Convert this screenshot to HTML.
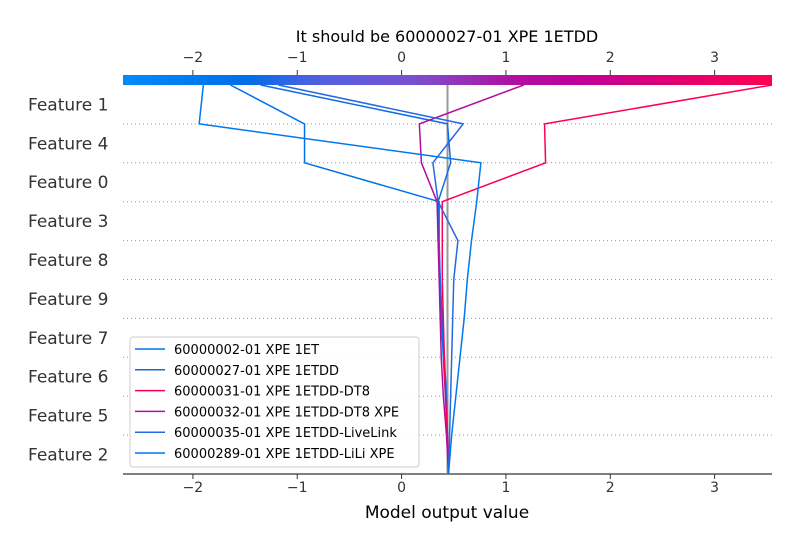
<!DOCTYPE html>
<html><head><meta charset="utf-8"><style>
body{margin:0;background:#fff;font-family:"Liberation Sans","DejaVu Sans",sans-serif}
</style></head><body>
<svg id="c" width="800" height="550" xmlns="http://www.w3.org/2000/svg" font-family="DejaVu Sans, Liberation Sans, sans-serif">
<defs><linearGradient id="g" x1="0" x2="1" y1="0" y2="0">
<stop offset="0" stop-color="#008bfb"/><stop offset="0.19" stop-color="#006ee8"/><stop offset="0.3" stop-color="#5060e0"/><stop offset="0.45" stop-color="#7a50d0"/><stop offset="0.6" stop-color="#b010a0"/><stop offset="0.7" stop-color="#c0009a"/><stop offset="0.85" stop-color="#e00070"/><stop offset="1" stop-color="#ff0050"/></linearGradient></defs>
<text x="447" y="42" font-size="16" text-anchor="middle" fill="#000">It should be 60000027-01 XPE 1ETDD</text>
<rect x="123" y="75" width="649" height="10" fill="url(#g)"/>
<g id="grid"></g><g id="ax"></g><g id="lines"></g>
<g>
<rect x="130" y="337" width="289" height="130" rx="3" fill="#fff" fill-opacity="0.85" stroke="#ccc"/>
<g id="leg"></g></g>
<text x="447" y="518" font-size="17" text-anchor="middle" fill="#000">Model output value</text>
</svg>
<script>
const features=["Feature 2","Feature 5","Feature 6","Feature 7","Feature 9","Feature 8","Feature 3","Feature 0","Feature 4","Feature 1"];
const ticks=[-2,-1,0,1,2,3];
const baseValue=0.44;
const seriesNames=["60000002-01 XPE 1ET","60000027-01 XPE 1ETDD","60000031-01 XPE 1ETDD-DT8","60000032-01 XPE 1ETDD-DT8 XPE","60000035-01 XPE 1ETDD-LiveLink","60000289-01 XPE 1ETDD-LiLi XPE"];
const s0=[0.45,0.44,0.42,0.40,0.38,0.37,0.36,0.36,-0.93,-0.93,-1.64];
const s1=[0.45,0.44,0.43,0.41,0.39,0.37,0.35,0.35,0.47,0.44,-1.35];
const s2=[0.45,0.44,0.42,0.41,0.40,0.39,0.39,0.39,1.38,1.37,3.55];
const s3=[0.45,0.43,0.40,0.38,0.37,0.36,0.35,0.34,0.19,0.17,1.17];
const s4=[0.45,0.46,0.47,0.48,0.49,0.50,0.54,0.35,0.30,0.59,-1.18];
const s5=[0.45,0.48,0.52,0.56,0.60,0.63,0.67,0.72,0.76,-1.94,-1.90];
const series=[s0,s1,s2,s3,s4,s5];
const xmin=-2.67,xmax=3.55,X0=123,X1=772;
const xs=v=>X0+(v-xmin)/(xmax-xmin)*(X1-X0);
const yb=i=>474-i*38.9;
const NS="http://www.w3.org/2000/svg";
function mk(t,a,p){const e=document.createElementNS(NS,t);for(const k in a)e.setAttribute(k,a[k]);p.appendChild(e);return e;}
const stops=[[0,[0,139,251]],[0.19,[0,110,232]],[0.3,[80,96,224]],[0.45,[122,80,208]],[0.6,[176,16,160]],[0.7,[192,0,154]],[0.85,[224,0,112]],[1,[255,0,80]]];
function col(v){let f=Math.max(0,Math.min(1,(v-xmin)/(xmax-xmin)));for(let i=1;i<stops.length;i++){if(f<=stops[i][0]){const a=stops[i-1],b=stops[i],t=(f-a[0])/(b[0]-a[0]);return "rgb("+a[1].map((c,j)=>Math.round(c+(b[1][j]-c)*t)).join(",")+")";}}return "rgb(255,0,80)";}
const grid=document.getElementById('grid'),ax=document.getElementById('ax'),L=document.getElementById('lines'),leg=document.getElementById('leg');
features.forEach((f,i)=>{
 if(i>0){const g=mk('line',{x1:X0,x2:X1,y1:yb(i),y2:yb(i),stroke:'#999','stroke-width':1,'stroke-dasharray':'1,3'},grid);
 
 }
 const t=mk('text',{x:28,y:yb(i)-19.5+6,'font-size':17,fill:'#333'},ax);t.textContent=f;
 
 
});
const axl=mk('line',{x1:X0,x2:X1,y1:474,y2:474,stroke:'#000','stroke-width':1},ax);


ticks.forEach(v=>{
 [[474,479,492],[75,70,62]].forEach(([y1,y2,ty])=>{
 mk('line',{x1:xs(v),x2:xs(v),y1:y1,y2:y2,stroke:'#333'},ax);
 const t=mk('text',{x:xs(v),y:ty,'font-size':14,'text-anchor':'middle',fill:'#333'},ax);t.textContent=(v<0?'\u2212'+(-v):v);
 
 });
});
const bl=mk('line',{x1:xs(baseValue),x2:xs(baseValue),y1:85,y2:474,stroke:'#999','stroke-width':2},L);


series.forEach((s,k)=>{
 const c=col(s[s.length-1]);
 const p=mk('polyline',{points:s.map((v,i)=>xs(v)+','+yb(i)).join(' '),fill:'none',stroke:c,'stroke-width':1.5},L);
 
 
 const y=349+k*20.8;
 mk('line',{x1:135,x2:165,y1:y,y2:y,stroke:c,'stroke-width':1.5},leg);
 const t=mk('text',{x:174,y:y+5,'font-size':13,fill:'#000'},leg);t.textContent=seriesNames[k];
 
 
});
</script>
</body></html>
